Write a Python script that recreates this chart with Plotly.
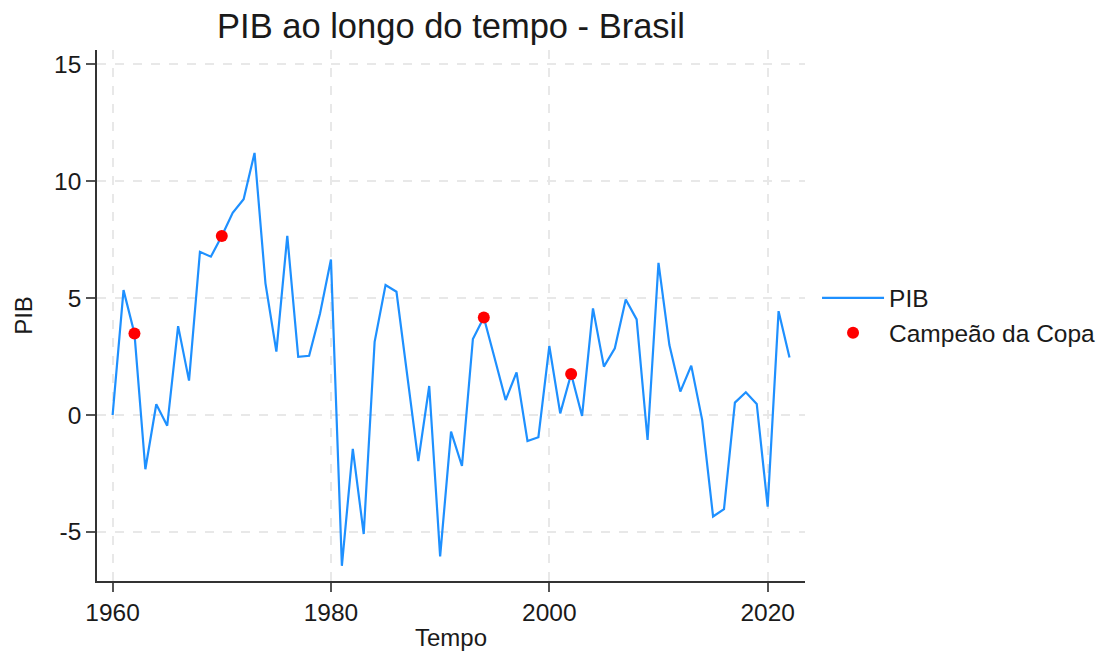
import plotly.graph_objects as go

anos = list(range(1960, 2023))
pib = [
    0.0, 5.34, 3.49, -2.32, 0.46, -0.46, 3.80, 1.47, 6.98, 6.77,
    7.66, 8.65, 9.23, 11.21, 5.63, 2.71, 7.66, 2.49, 2.53, 4.34,
    6.65, -6.45, -1.45, -5.09, 3.13, 5.56, 5.27, 1.55, -1.97, 1.24,
    -6.05, -0.71, -2.18, 3.25, 4.17, 2.42, 0.64, 1.82, -1.11, -0.95,
    2.95, 0.07, 1.75, -0.04, 4.56, 2.07, 2.85, 4.94, 4.09, -1.07,
    6.51, 2.99, 1.00, 2.11, -0.21, -4.34, -4.03, 0.53, 0.97, 0.47,
    -3.92, 4.44, 2.46,
]
anos_copa = [1962, 1970, 1994, 2002]
pib_copa = [pib[anos.index(a)] for a in anos_copa]

y_ticks = [-5, 0, 5, 10, 15]
y_ticktext = ["-5", "0", "5", "10", "15"]
x_ticks = [1960, 1980, 2000, 2020]

FONT = "Arial, Liberation Sans, sans-serif"

fig = go.Figure()
fig.add_trace(
    go.Scatter(
        x=anos,
        y=pib,
        mode="lines",
        name="PIB",
        line=dict(color="#1E90FF", width=2.2),
    )
)
fig.add_trace(
    go.Scatter(
        x=anos_copa,
        y=pib_copa,
        mode="markers",
        name="Campeão da Copa",
        marker=dict(color="#FF0000", size=12),
    )
)

axis_common = dict(
    showline=True,
    linecolor="#333333",
    linewidth=1.5,
    ticks="outside",
    ticklen=9,
    tickwidth=1.5,
    tickcolor="#555555",
    showgrid=True,
    gridcolor="#E8E8E8",
    gridwidth=1.5,
    griddash="dash",
    zeroline=False,
    tickfont=dict(size=24.5, color="#1a1a1a"),
    automargin=False,
)

fig.update_xaxes(
    range=[1958.57, 2023.42],
    tickvals=x_ticks,
    title=dict(text="Tempo", font=dict(size=24, color="#1a1a1a"), standoff=4),
    **axis_common,
)
fig.update_yaxes(
    range=[-7.1, 15.61],
    tickvals=y_ticks,
    ticktext=y_ticktext,
    title=dict(text="PIB", font=dict(size=24, color="#1a1a1a")),
    **axis_common,
)

# the page body adds an 8px offset, so margins are shifted by 8px
fig.update_layout(
    width=1111,
    height=657,
    plot_bgcolor="white",
    paper_bgcolor="white",
    font=dict(family=FONT, color="#1a1a1a"),
    title=dict(
        text="PIB ao longo do tempo - Brasil",
        font=dict(size=34.5, color="#1a1a1a"),
        x=443 / 1111,
        xanchor="center",
        y=0.972,
        yanchor="middle",
    ),
    legend=dict(
        x=1.017,
        y=0.5,
        xanchor="left",
        yanchor="middle",
        font=dict(size=24.5),
        itemwidth=62,
    ),
    margin=dict(l=89, r=314, t=42, b=84, pad=0),
)

fig.write_html("out.html")
